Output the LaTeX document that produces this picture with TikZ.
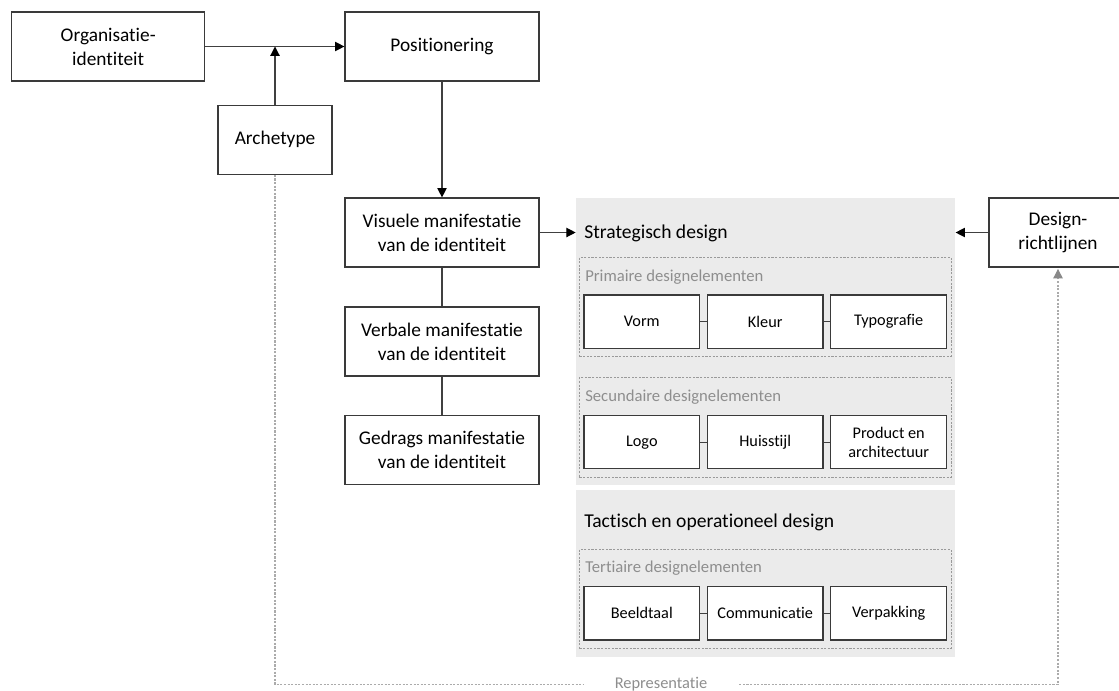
\documentclass[tikz,border=0pt]{standalone}
\usepackage{fontspec}
\setmainfont[Ligatures=NoCommon]{Carlito}
\usetikzlibrary{arrows.meta}
\definecolor{boxline}{HTML}{3A3A3A}
\definecolor{linkline}{HTML}{404040}
\definecolor{panelfill}{HTML}{EBEBEB}
\definecolor{groupline}{HTML}{9A9A9A}
\definecolor{grouptext}{HTML}{8E8E8E}
\definecolor{repline}{HTML}{ABABAB}
\tikzset{
  mainbox/.style={draw=boxline, line width=0.9pt, fill=white, align=center,
    minimum width=145.5pt, minimum height=51.75pt, inner sep=0pt,
    font=\fontsize{14.5}{18}\selectfont},
  elembox/.style={draw=boxline, line width=0.9pt, fill=white, align=center,
    minimum width=86.8pt, minimum height=40pt, inner sep=0pt,
    font=\fontsize{12.2}{14.5}\selectfont},
  panel/.style={fill=panelfill, draw=none, anchor=north west, inner sep=0pt},
  group/.style={draw=groupline, line width=0.6pt, dash pattern=on 1.6pt off 1.1pt,
    anchor=north west, inner sep=0pt},
  heading/.style={anchor=west, inner sep=0pt, font=\fontsize{14.7}{17}\selectfont},
  grouplabel/.style={anchor=west, inner sep=0pt, text=grouptext,
    font=\fontsize{12.5}{14}\selectfont},
  flow/.style={draw=linkline, line width=0.9pt,
    -{Triangle[length=7pt,width=7pt,color=black]}},
  link/.style={draw=linkline, line width=0.9pt},
  rep/.style={draw=repline, line width=0.8pt, dash pattern=on 1.6pt off 1.1pt},
}
\begin{document}
\begin{tikzpicture}[x=0.75pt, y=-0.75pt]
\useasboundingbox (0,0) rectangle (1119,690);

% background panels
\node[panel, minimum width=284.5pt, minimum height=214.7pt] (p1) at (575.7,198) {};
\node[panel, minimum width=284.5pt, minimum height=125pt] (p2) at (575.7,490) {};

% dashed groups of design elements
\node[group, minimum width=278.8pt, minimum height=74pt] (g1) at (579,257) {};
\node[group, minimum width=278.8pt, minimum height=74.5pt] (g2) at (579,377.3) {};
\node[group, minimum width=278.8pt, minimum height=74pt] (g3) at (579,549) {};

\node[heading] (h1) at (584,233) {Strategisch design};
\node[heading] (h2) at (584,522.7) {Tactisch en operationeel design};
\node[grouplabel] (l1) at (585,277) {Primaire designelementen};
\node[grouplabel] (l2) at (585,397.3) {Secundaire designelementen};
\node[grouplabel] (l3) at (585,568.3) {Tertiaire designelementen};

% left column
\node[mainbox, minimum width=144.75pt] (org) at (108.2,46.5) {Organisatie-\\identiteit};
\node[mainbox] (pos) at (442,46.5) {Positionering};
\node[mainbox, minimum width=85.5pt] (arch) at (275,139.7) {Archetype};
\node[mainbox] (vis) at (442,232.5) {Visuele manifestatie\\van de identiteit};
\node[mainbox] (verb) at (442,341.5) {Verbale manifestatie\\van de identiteit};
\node[mainbox] (gedr) at (442,450.3) {Gedrags manifestatie\\van de identiteit};
\node[mainbox, minimum width=103.5pt] (des) at (1058,232.5) {Design-\\richtlijnen};

% design elements
\node[elembox] (vorm) at (641.8,321.7) {Vorm};
\node[elembox] (kleur) at (765.2,321.7) {Kleur};
\node[elembox] (typo) at (888.7,321.7) {Typografie};
\node[elembox] (logo) at (641.8,442.2) {Logo};
\node[elembox] (huis) at (765.2,442.2) {Huisstijl};
\node[elembox] (prod) at (888.7,442.2) {Product en\\architectuur};
\node[elembox] (beeld) at (641.8,613.3) {Beeldtaal};
\node[elembox] (comm) at (765.2,613.3) {Communicatie};
\node[elembox] (verp) at (888.7,613.3) {Verpakking};

% representation line
\node[inner sep=0pt, minimum width=117pt, minimum height=12pt, text=grouptext,
  font=\fontsize{12.3}{13}\selectfont] (replab) at (661,684.3) {Representatie};

% connectors
\draw[flow] (org.east) -- (pos.west);
\draw[flow] (arch.north) -- (arch.north |- org.east);
\draw[flow] (pos.south) -- (vis.north);
\draw[flow] (vis.east) -- (vis.east -| p1.west);
\draw[flow] (des.west) -- (des.west -| p1.east);
\draw[link] (vis) -- (verb);
\draw[link] (verb) -- (gedr);
\draw[link] (vorm) -- (kleur);
\draw[link] (kleur) -- (typo);
\draw[link] (logo) -- (huis);
\draw[link] (huis) -- (prod);
\draw[link] (beeld) -- (comm);
\draw[link] (comm) -- (verp);
\draw[rep] (arch.south) |- (replab.west);
\draw[rep, -{Triangle[length=7pt,width=7pt,color=repline!80!black]}]
  (replab.east) -| ([yshift=-1pt]des.south);
\end{tikzpicture}
\end{document}
